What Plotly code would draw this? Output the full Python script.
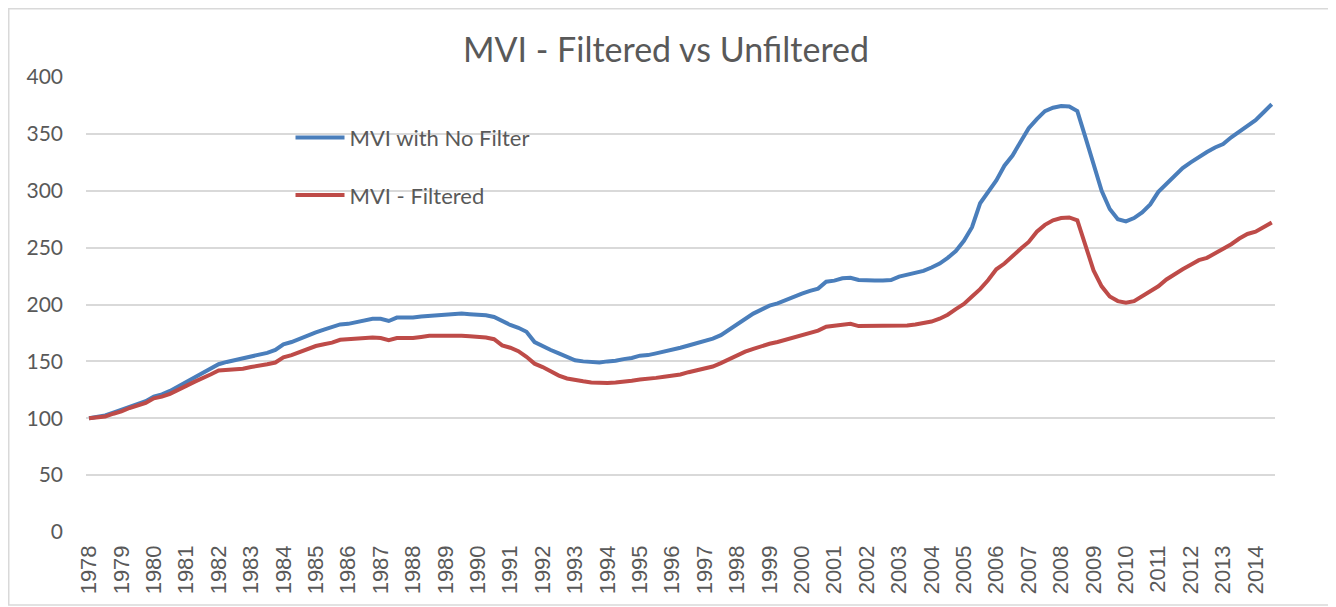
import plotly.graph_objects as go

# Quarterly data, 1978 Q1 .. 2014 Q3
years = list(range(1978, 2015))
quarters = [y + q / 4 for y in years for q in range(4)][:147]

mvi_unfiltered = [
    100, 101.5, 102.5, 105,
    107.5, 110, 112, 115,
    119, 121, 124, 128,
    131, 135, 139, 143,
    147.5, 149.5, 151, 152.5,
    154, 155.5, 157.5, 160,
    165, 167, 170, 172.5,
    175.5, 178, 180.5, 182.5,
    183, 184.5, 186.5, 187.5,
    187.5, 185.5, 188.5, 188.5,
    188.5, 189.5, 190, 190.5,
    190.5, 191, 192, 191.5,
    191, 190.5, 189, 185,
    182, 179.5, 176, 167,
    163, 160, 157, 154,
    151, 150, 149.5, 149,
    150, 150.5, 152, 153,
    155, 155.5, 157, 158.5,
    160, 162, 164, 166,
    168, 170, 173, 178,
    183, 187, 192, 195.5,
    199, 201, 204, 206.5,
    209.5, 212, 214, 220,
    221, 223, 223.5, 221.5,
    221, 221, 221, 221.5,
    224.5, 226, 228, 229.5,
    232.5, 236, 241, 247,
    256, 268, 289, 299,
    309, 322, 331, 343,
    355, 363, 370, 373,
    374.5, 374, 370, 347,
    322, 300, 284, 275,
    273, 276, 281, 288,
    299, 306, 313, 320,
    325, 330, 334, 338,
    341, 347, 352, 358,
    362, 369, 376,
]

mvi_filtered = [
    100, 101, 101.5, 104,
    106, 109, 111, 113.5,
    117.5, 119, 121.5, 125.5,
    128.5, 132, 135, 138.5,
    142, 142.5, 142.5, 143.5,
    145, 146, 147.5, 149,
    153.5, 155.5, 158, 160.5,
    163.5, 165, 166.5, 169,
    169.5, 169.5, 170.5, 171,
    170.5, 168.7, 170.5, 170.5,
    170.5, 171.5, 172.5, 172.5,
    172.5, 173, 172.5, 172,
    171.5, 171, 169.5, 164,
    162, 159, 154, 148,
    145, 141, 137.5, 135,
    133.5, 132.5, 131.5, 131,
    131, 131.5, 132, 133,
    134, 134.5, 135.5, 136.5,
    137.5, 138.5, 140.5, 142,
    143.5, 145.5, 148.5, 152,
    155.5, 158.5, 161, 163.5,
    165.5, 167, 169, 171,
    173, 175, 177, 180.5,
    181.5, 182.5, 183, 181,
    181, 181, 181, 181,
    181, 181.5, 182.5, 183.5,
    185, 187.5, 191, 196,
    200.5, 207, 213.5, 221.5,
    231, 236, 243, 249,
    255, 264, 270, 274,
    276, 276.5, 274, 251,
    230, 216, 207, 203,
    201.5, 203, 207, 211,
    216, 222, 227, 231,
    235, 239, 241, 245,
    248, 253, 258, 262,
    264, 268, 272,
]

year_labels = [str(y) for y in years]
y_ticks = [0, 50, 100, 150, 200, 250, 300, 350, 400]

TEXT = "#595959"
GRID = "#d9d9d9"

# page body has an 8px default margin; the figure is sized to fit inside it
W, H = 1328, 599
L, T, PW, PH = 78, 69, 1189, 455

fig = go.Figure()
fig.add_trace(go.Scatter(
    x=quarters, y=mvi_unfiltered, mode="lines", name="MVI with No Filter",
    line=dict(color="#4a7ebb", width=4), legendgroup="a",
))
fig.add_trace(go.Scatter(
    x=quarters, y=mvi_filtered, mode="lines", name="MVI - Filtered",
    line=dict(color="#be4b48", width=4), legendgroup="b",
))

fig.update_layout(
    width=W, height=H,
    margin=dict(l=L, r=W - L - PW, t=T, b=H - T - PH),
    paper_bgcolor="white", plot_bgcolor="white",
    font=dict(family="Lato, 'Open Sans', sans-serif", color=TEXT),
    title=dict(text="MVI - Filtered vs Unfiltered", x=658 / W, xanchor="center",
               xref="container",
               y=1 - 42 / H, yanchor="middle",
               font=dict(size=34, color=TEXT, family="Lato, sans-serif")),
    showlegend=True,
    legend=dict(x=0.172, y=0.913, xanchor="left", yanchor="top",
                bgcolor="rgba(0,0,0,0)", font=dict(size=22, color=TEXT),
                traceorder="grouped", tracegroupgap=26, itemwidth=49),
    xaxis=dict(range=[1977.907, 2014.6], tickmode="array", tickvals=years,
               ticktext=year_labels, tickangle=-90, showgrid=False,
               zeroline=False, showline=False, ticks="", automargin=False,
               tickfont=dict(size=22, color=TEXT, family="'Liberation Sans', Arial, sans-serif"),
               ticklabelstandoff=8),
    yaxis=dict(range=[0, 400], tickmode="array", tickvals=y_ticks,
               showgrid=True, gridcolor=GRID, gridwidth=1.5, zeroline=False,
               showline=False, ticks="", automargin=False,
               tickfont=dict(size=21, color=TEXT),
               ticklabelstandoff=22),
    shapes=[dict(type="rect", xref="paper", yref="paper",
                 x0=(0.75 - L) / PW, x1=(1322 - L) / PW,
                 y0=(T + PH - 597) / PH, y1=(T + PH - 0.75) / PH,
                 line=dict(color=GRID, width=1.5), fillcolor="rgba(0,0,0,0)",
                 layer="below")],
)

fig.write_html("out.html")
